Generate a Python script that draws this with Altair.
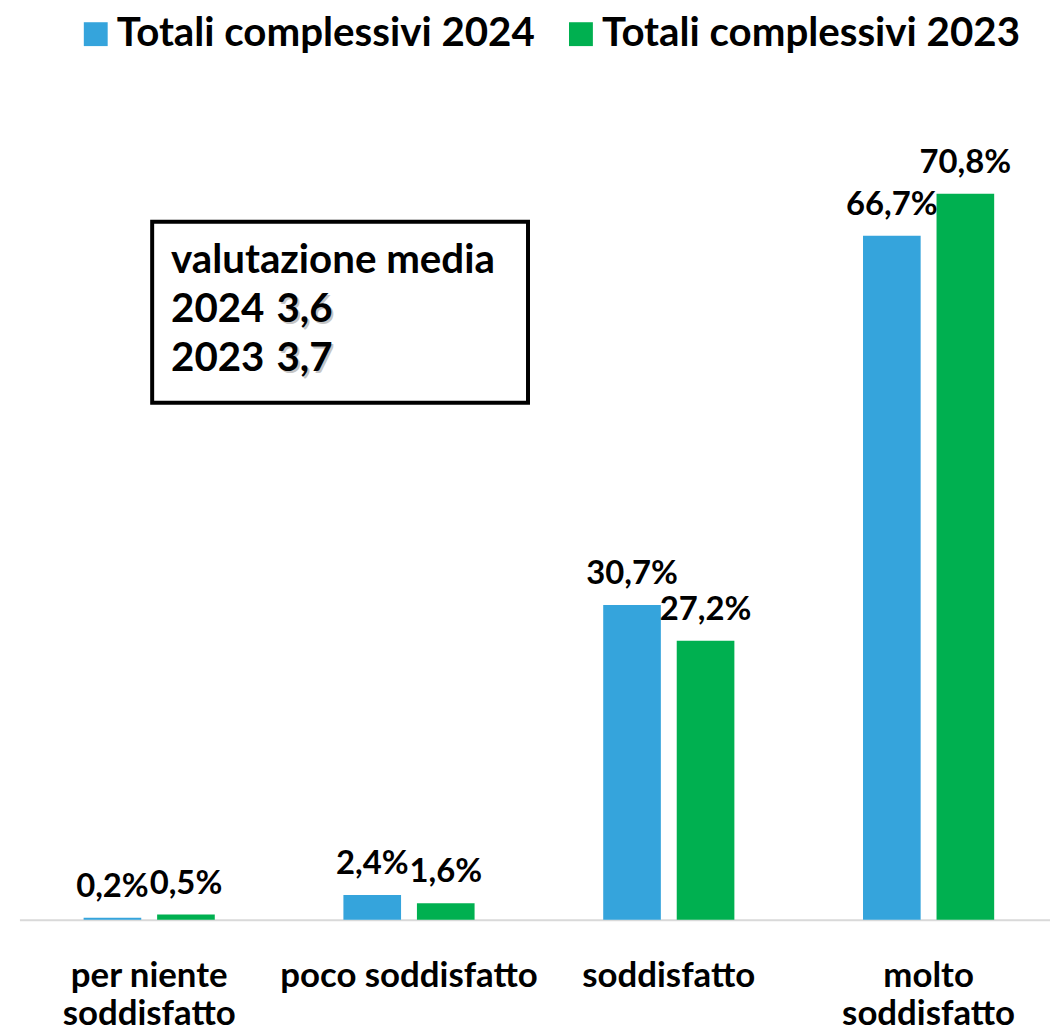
import altair as alt
import pandas as pd

categories = ["per niente soddisfatto", "poco soddisfatto", "soddisfatto", "molto soddisfatto"]
series = ["Totali complessivi 2024", "Totali complessivi 2023"]
values_2024 = [0.2, 2.4, 30.7, 66.7]
values_2023 = [0.5, 1.6, 27.2, 70.8]
colors = ["#35A4DC", "#00B050"]
box_title = "valutazione media"
box_years = ["2024", "2023"]
box_scores = ["3,6", "3,7"]

rows = []
for c, a, b in zip(categories, values_2024, values_2023):
    rows.append({"cat": c, "serie": series[0], "v": a})
    rows.append({"cat": c, "serie": series[1], "v": b})
df = pd.DataFrame(rows)

FONT = "Lato"

label_expr = (
    "datum.value == 'per niente soddisfatto' ? ['per niente', 'soddisfatto'] : "
    "datum.value == 'molto soddisfatto' ? ['molto', 'soddisfatto'] : datum.value"
)

x_enc = alt.X(
    "cat:N",
    sort=categories,
    scale=alt.Scale(range=[19.9, 1048], paddingInner=0.434, paddingOuter=0.1843),
    axis=alt.Axis(
        title=None, labelFont=FONT, labelFontSize=35, labelFontWeight="bold",
        labelColor="black", labelAngle=0, labelPadding=39, ticks=False,
        domain=False, labelExpr=label_expr,
        labelBaseline="top", labelLineHeight=38, labelLimit=0,
    ),
)
xoff = alt.XOffset("serie:N", sort=series,
                   scale=alt.Scale(paddingInner=0.216, paddingOuter=0.108))
y_enc = alt.Y("v:Q", scale=alt.Scale(domain=[0, 80]), axis=None)

base = alt.Chart(df)

dummy = pd.DataFrame({"a": [0]})
baseline = alt.Chart(dummy).mark_rule(color="#D9D9D9", strokeWidth=2).encode(
    x=alt.value(12), x2=alt.value(1048), y=alt.value(825.5)
)

bars = base.mark_bar().encode(
    x=x_enc,
    xOffset=xoff,
    y=y_enc,
    color=alt.Color(
        "serie:N", sort=series,
        scale=alt.Scale(domain=series, range=colors),
        legend=alt.Legend(
            title=None, orient="none", legendX=68, legendY=-86,
            direction="horizontal", symbolType="square", symbolSize=576,
            symbolStrokeWidth=0, symbolOpacity=1, labelFont=FONT,
            labelFontSize=40.5, labelFontWeight="bold", labelColor="black",
            labelOffset=1, columnPadding=26, labelLimit=0, padding=0,
        ),
    ),
)

labels = base.mark_text(
    font=FONT, fontSize=33, fontWeight="bold", color="black",
    baseline="alphabetic", dy=-21,
).transform_calculate(
    lab="replace(format(datum.v, '.1f'), '.', ',') + '%'"
).encode(
    x=x_enc, xOffset=xoff, y=y_enc, text="lab:N",
)

box = alt.Chart(dummy).mark_rect(fill="white", stroke="black", strokeWidth=4).encode(
    x=alt.value(145), x2=alt.value(523), y=alt.value(123), y2=alt.value(305)
)

txt_style = dict(font=FONT, fontSize=40.5, fontWeight="bold", color="black",
                 baseline="alphabetic", align="left")

t_title = alt.Chart(pd.DataFrame({"t": [box_title]})).mark_text(**txt_style).encode(
    x=alt.value(164), y=alt.value(175), text="t:N")
t_y1 = alt.Chart(pd.DataFrame({"t": [box_years[0]]})).mark_text(**txt_style).encode(
    x=alt.value(164), y=alt.value(224), text="t:N")
t_y2 = alt.Chart(pd.DataFrame({"t": [box_years[1]]})).mark_text(**txt_style).encode(
    x=alt.value(164), y=alt.value(273), text="t:N")

shadow_style = dict(txt_style, color="#A0A0A0", opacity=0.6)
s_1 = alt.Chart(pd.DataFrame({"t": [box_scores[0]]})).mark_text(**shadow_style).encode(
    x=alt.value(272), y=alt.value(226), text="t:N")
s_2 = alt.Chart(pd.DataFrame({"t": [box_scores[1]]})).mark_text(**shadow_style).encode(
    x=alt.value(272), y=alt.value(275), text="t:N")
v_1 = alt.Chart(pd.DataFrame({"t": [box_scores[0]]})).mark_text(**txt_style).encode(
    x=alt.value(270), y=alt.value(224), text="t:N")
v_2 = alt.Chart(pd.DataFrame({"t": [box_scores[1]]})).mark_text(**txt_style).encode(
    x=alt.value(270), y=alt.value(273), text="t:N")

chart = alt.layer(
    baseline, bars, labels, box, t_title, t_y1, t_y2, s_1, s_2, v_1, v_2
).properties(
    width=1048, height=825,
    autosize=alt.AutoSizeParams(type="none"),
    padding={"left": 0, "top": 89, "right": 0, "bottom": 106},
    background="white",
).configure_view(stroke=None)

chart.save("out.html", embed_options={"renderer": "svg", "actions": False})
